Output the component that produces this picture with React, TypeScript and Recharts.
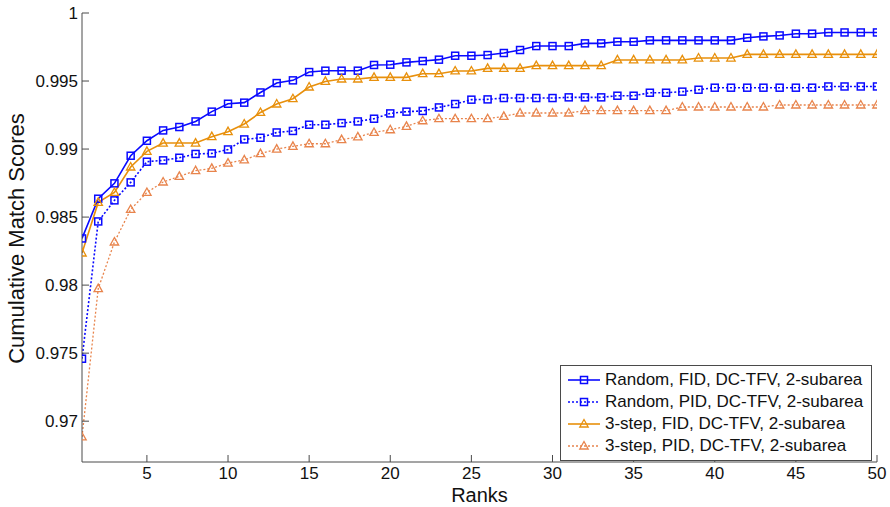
import React from "react";
import { LineChart, Line, XAxis, YAxis, Legend } from "recharts";

// ranks 1..50
const ranks = [
  1, 2, 3, 4, 5, 6, 7, 8, 9, 10, 11, 12, 13, 14, 15, 16, 17, 18, 19, 20,
  21, 22, 23, 24, 25, 26, 27, 28, 29, 30, 31, 32, 33, 34, 35, 36, 37, 38, 39, 40,
  41, 42, 43, 44, 45, 46, 47, 48, 49, 50,
];

const randomFid = [
  0.98343, 0.98635, 0.98748, 0.98951, 0.99061, 0.99137, 0.99162, 0.99203, 0.99275, 0.99333,
  0.99341, 0.99416, 0.99485, 0.99505, 0.99566, 0.99576, 0.99576, 0.99576, 0.99618, 0.9962,
  0.99637, 0.99647, 0.99657, 0.99686, 0.99686, 0.99691, 0.99706, 0.99728, 0.99757, 0.99757,
  0.99757, 0.99777, 0.99777, 0.99789, 0.99789, 0.99799, 0.99799, 0.99799, 0.99799, 0.99799,
  0.99799, 0.99818, 0.99828, 0.99835, 0.99848, 0.99848, 0.99857, 0.99857, 0.99857, 0.99857,
];

const randomPid = [
  0.97459, 0.98468, 0.98623, 0.98755, 0.98907, 0.98917, 0.98936, 0.98964, 0.98968, 0.98997,
  0.99071, 0.99083, 0.99122, 0.99133, 0.99179, 0.99179, 0.99191, 0.99203, 0.99223, 0.99262,
  0.99275, 0.9928, 0.99306, 0.99331, 0.99363, 0.99365, 0.99375, 0.99375, 0.99375, 0.99375,
  0.9938, 0.9938, 0.9938, 0.99392, 0.99392, 0.99414, 0.99414, 0.99422, 0.99436, 0.99451,
  0.99451, 0.99451, 0.99451, 0.99451, 0.99451, 0.99451, 0.9946, 0.9946, 0.9946, 0.9946,
];

const threeStepFid = [
  0.98236, 0.98608, 0.98681, 0.98868, 0.98983, 0.99044, 0.99044, 0.99044, 0.99091, 0.99128,
  0.99184, 0.99269, 0.99331, 0.9937, 0.99456, 0.99497, 0.99515, 0.99515, 0.99527, 0.99527,
  0.99527, 0.99554, 0.99554, 0.99574, 0.99574, 0.99593, 0.99593, 0.99593, 0.99613, 0.99613,
  0.99613, 0.99613, 0.99613, 0.99655, 0.99655, 0.99655, 0.99655, 0.99655, 0.99669, 0.99669,
  0.99669, 0.99696, 0.99696, 0.99696, 0.99696, 0.99696, 0.99696, 0.99696, 0.99696, 0.99696,
];

const threeStepPid = [
  0.96884, 0.97974, 0.98317, 0.98556, 0.98681, 0.98758, 0.98799, 0.98841, 0.98858, 0.98897,
  0.9892, 0.98966, 0.99, 0.9902, 0.99039, 0.99039, 0.99069, 0.99089, 0.99122, 0.99142,
  0.99167, 0.99208, 0.99223, 0.99223, 0.99223, 0.99223, 0.9924, 0.99265, 0.99265, 0.99265,
  0.99265, 0.99282, 0.99282, 0.99282, 0.99282, 0.99282, 0.99282, 0.99309, 0.99309, 0.99309,
  0.99309, 0.99309, 0.99309, 0.99324, 0.99324, 0.99324, 0.99324, 0.99324, 0.99324, 0.99324,
];

const xTicks = [5, 10, 15, 20, 25, 30, 35, 40, 45, 50];
const yTicks = [0.97, 0.975, 0.98, 0.985, 0.99, 0.995, 1];

const FONT = '"Liberation Sans", Arial, sans-serif';
const AXIS = "#4a4a4a";
const BLUE = "#0a0aff";
const ORANGE = "#e8900c";
const SALMON = "#e8844c";

const data = ranks.map((r, i) => ({
  rank: r,
  randomFid: randomFid[i],
  randomPid: randomPid[i],
  threeStepFid: threeStepFid[i],
  threeStepPid: threeStepPid[i],
}));

const series = [
  { key: "randomFid", name: "Random, FID, DC-TFV, 2-subarea", color: BLUE, dash: undefined, width: 1.6, marker: "square" },
  { key: "randomPid", name: "Random, PID, DC-TFV, 2-subarea", color: BLUE, dash: "2 2", width: 1.6, marker: "square" },
  { key: "threeStepFid", name: "3-step, FID, DC-TFV, 2-subarea", color: ORANGE, dash: undefined, width: 1.6, marker: "triangle" },
  { key: "threeStepPid", name: "3-step, PID, DC-TFV, 2-subarea", color: SALMON, dash: "2 2", width: 1.3, marker: "triangle" },
];

function Marker({ cx, cy, color, shape }: any) {
  if (cx == null || cy == null) return null;
  if (shape === "square") {
    return <rect x={cx - 3.5} y={cy - 3.5} width={7} height={7} fill="none" stroke={color} strokeWidth={1.5} />;
  }
  const pts = `${cx},${cy - 4.5} ${cx - 4.2},${cy + 3} ${cx + 4.2},${cy + 3}`;
  return <polygon points={pts} fill="none" stroke={color} strokeWidth={1.3} />;
}

const fmtY = (v: number) => String(Number(v.toFixed(3)));

// ticks point inward, MATLAB-style
const BottomTick = ({ x, y, payload }: any) => (
  <g>
    <line x1={x} y1={y} x2={x} y2={y - 7} stroke={AXIS} />
    <text x={x} y={y + 11} textAnchor="middle" dominantBaseline="central" fontSize={17} fill="#111" fontFamily={FONT}>
      {payload.value}
    </text>
  </g>
);

const TopTick = ({ x, y, payload }: any) =>
  payload.value >= 50 ? null : <line x1={x} y1={y} x2={x} y2={y + 7} stroke={AXIS} />;

const LeftTick = ({ x, y, payload }: any) => (
  <g>
    <line x1={x} y1={y} x2={x + 7} y2={y} stroke={AXIS} />
    <text x={x - 4} y={y} textAnchor="end" dominantBaseline="central" fontSize={17} fill="#111" fontFamily={FONT}>
      {fmtY(payload.value)}
    </text>
  </g>
);

const RightTick = ({ x, y, payload }: any) =>
  payload.value >= 1 ? null : <line x1={x} y1={y} x2={x - 7} y2={y} stroke={AXIS} />;

const XTitle = ({ viewBox }: any) => (
  <text
    x={viewBox.x + viewBox.width / 2}
    y={viewBox.y + 40}
    textAnchor="middle"
    fontSize={20}
    fill="#111"
    fontFamily={FONT}
  >
    Ranks
  </text>
);

const YTitle = ({ viewBox }: any) => {
  const cx = 16;
  const cy = viewBox.y + viewBox.height / 2 + 1;
  return (
    <text
      x={cx}
      y={cy}
      transform={`rotate(-90 ${cx} ${cy})`}
      textAnchor="middle"
      dominantBaseline="central"
      fontSize={22}
      fill="#111"
      fontFamily={FONT}
    >
      Cumulative Match Scores
    </text>
  );
};

function LegendBox() {
  return (
    <div
      style={{
        border: `1px solid ${AXIS}`,
        background: "#fff",
        padding: "3px 8px 3px 6px",
        fontFamily: FONT,
        fontSize: 17,
        color: "#111",
      }}
    >
      {series.map((s) => (
        <div key={s.key} style={{ display: "flex", alignItems: "center", height: 22, whiteSpace: "nowrap" }}>
          <svg width={34} height={14} style={{ marginRight: 4 }}>
            <line x1={1} y1={7} x2={33} y2={7} stroke={s.color} strokeWidth={s.width} strokeDasharray={s.dash} />
            <Marker cx={17} cy={7} color={s.color} shape={s.marker} />
          </svg>
          <span>{s.name}</span>
        </div>
      ))}
    </div>
  );
}

export default function App() {
  return (
    <div style={{ position: "absolute", left: 0, top: 0, background: "#fff" }}>
      <LineChart width={890} height={507} data={data} margin={{ top: 13, right: 13, left: 12, bottom: 0 }}>
        <XAxis
          xAxisId="bottom"
          dataKey="rank"
          type="number"
          domain={[1, 50]}
          ticks={xTicks}
          allowDataOverflow
          height={45}
          stroke={AXIS}
          tickSize={0}
          tickMargin={0}
          tickLine={false}
          tick={<BottomTick />}
          label={<XTitle />}
        />
        <XAxis
          xAxisId="top"
          orientation="top"
          dataKey="rank"
          type="number"
          domain={[1, 50]}
          ticks={xTicks}
          allowDataOverflow
          height={0}
          stroke={AXIS}
          tickSize={0}
          tickLine={false}
          tick={<TopTick />}
        />
        <YAxis
          yAxisId="left"
          type="number"
          domain={[0.967, 1]}
          ticks={yTicks}
          allowDataOverflow
          width={70}
          stroke={AXIS}
          tickSize={0}
          tickMargin={0}
          tickLine={false}
          tick={<LeftTick />}
          label={<YTitle />}
        />
        <YAxis
          yAxisId="right"
          orientation="right"
          type="number"
          domain={[0.967, 1]}
          ticks={yTicks}
          allowDataOverflow
          width={0}
          stroke={AXIS}
          tickSize={0}
          tickLine={false}
          tick={<RightTick />}
        />
        {series.map((s) => (
          <Line
            key={s.key}
            xAxisId="bottom"
            yAxisId="left"
            type="linear"
            dataKey={s.key}
            name={s.name}
            stroke={s.color}
            strokeWidth={s.width}
            strokeDasharray={s.dash}
            dot={(p: any) => <Marker key={`${s.key}-${p.index}`} cx={p.cx} cy={p.cy} color={s.color} shape={s.marker} />}
            activeDot={false}
            isAnimationActive={false}
          />
        ))}
        <Legend
          layout="horizontal"
          verticalAlign="middle"
          align="center"
          wrapperStyle={{ left: 560, top: 365, width: "auto" }}
          content={<LegendBox />}
        />
      </LineChart>
    </div>
  );
}
